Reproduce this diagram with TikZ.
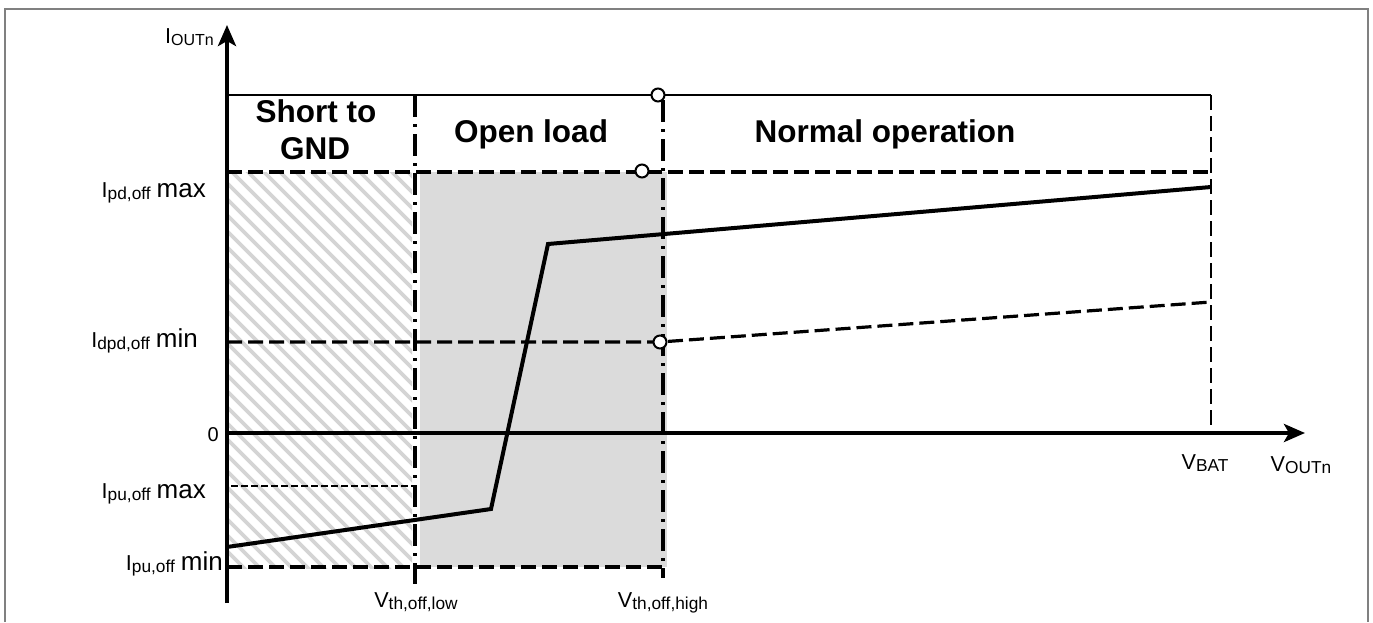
\documentclass[tikz,border=0pt]{standalone}
\usepackage{fontspec}
\setmainfont{Liberation Sans}
\usetikzlibrary{arrows.meta}
% lowered, smaller index text
\newcommand\idx[1]{\raisebox{-2.7pt}{\fontsize{17.3}{19}\selectfont #1}}
% enlarged limit word (max / min)
\newcommand\limword[1]{{\fontsize{26}{30}\selectfont #1}}
\begin{document}
\begin{tikzpicture}[x=1pt,y=-1pt,
  frame/.style={draw=black!50,line width=2pt},
  axis/.style={line width=4.6pt,-{Stealth[length=21pt,width=18pt,inset=5pt]}},
  curve/.style={line width=4pt,line join=miter},
  lvl/.style={line width=3.2pt,dash pattern=on 15pt off 6pt},
  finelvl/.style={line width=2.2pt,dash pattern=on 7pt off 3pt},
  bound/.style={line width=3.8pt,dash pattern=on 22pt off 7pt on 3pt off 7pt},
  boxline/.style={line width=2pt},
  pin/.style={circle,draw,fill=white,line width=2pt,minimum size=13pt,inner sep=0pt},
  lbl/.style={font=\fontsize{21.6}{26}\selectfont,inner sep=0pt},
  zone/.style={font=\bfseries\fontsize{31.5}{37}\selectfont,inner sep=0pt,anchor=base},
  hatch/.style={draw=black!17,line width=3.6pt}
]
\useasboundingbox (0,0) rectangle (1373,622);

% outer frame (open at the bottom)
\draw[frame] (5,622) -- (5,9) -- (1368,9) -- (1368,622);

% key coordinates
\coordinate (O) at (227,433);
\coordinate (ytop) at (227,25);
\coordinate (ybot) at (227,603);
\coordinate (xend) at (1305,433);

% open-load region
\fill[black!14] (420,172) rectangle (667,567);

% short-to-GND region, hatched
\begin{scope}
  \clip (229,172) rectangle (412,568);
  \foreach \s in {-196,-180,...,420}
    \draw[hatch] (\s,160) -- (\s+420,580);
\end{scope}

% zone header box
\coordinate (hb0) at (227,95);
\coordinate (hb1) at (1211,95);
\draw[boxline] (hb0) -- (hb1);

% current levels
\coordinate (pdL) at (227,172);   \coordinate (pdR) at (1211,172);
\coordinate (dpdL) at (227,342);  \coordinate (dpdM) at (660,342);
\coordinate (dpdR) at (1211,302);
\coordinate (puxL) at (231,486);  \coordinate (puxR) at (415,486);
\coordinate (punL) at (227,567);  \coordinate (punR) at (663,567);
\draw[lvl] (pdL) -- (pdR);
\draw[lvl] (dpdL) -- (dpdM) -- (dpdR);
\draw[finelvl] (puxL) -- (puxR);
\draw[lvl] (punL) -- (punR);

% voltage thresholds
\coordinate (vlT) at (415,95);   \coordinate (vlB) at (415,584);
\coordinate (vhT) at (663,100);  \coordinate (vhB) at (663,578);
\coordinate (vbT) at (1211,95);  \coordinate (vbB) at (1211,433);
\draw[bound] (vlT) -- (vlB);
\draw[bound] (vhT) -- (vhB);
\draw[lvl,line width=2.6pt] (vbT) -- (vbB);

% characteristic
\coordinate (c0) at (227,547);
\coordinate (c1) at (491,509);
\coordinate (c2) at (548,244);
\coordinate (c3) at (1211,187);
\draw[curve] (c0) -- (c1) -- (c2) -- (c3);

% axes
\draw[axis] (ybot) -- (ytop);
\draw[axis] (O) -- (xend);

% connection points
\node[pin] (p1) at (658,95) {};
\node[pin] (p2) at (642,171) {};
\node[pin] (p3) at (660,342) {};

% zone names
\node[zone] (z1a) at (316,122) {Short to};
\node[zone] (z1b) at (315,159) {GND};
\node[zone] (z2) at (531,142) {Open load};
\node[zone] (z3) at (885,142) {Normal operation};

% axis labels
\node[lbl,anchor=base east] (ly) at (214,43) {I{\raisebox{-2.7pt}{\fontsize{16}{18}\selectfont OUTn}}};
\node[lbl,anchor=base] (lx) at (1301,471) {V\idx{OUTn}};
\node[lbl,anchor=base east,font=\fontsize{20}{24}\selectfont] (l0) at (219,441) {0};

\node[lbl,anchor=base east] (l1) at (206,197) {I\idx{pd,off} \limword{max}};
\node[lbl,anchor=base east] (l2) at (198,347) {I\idx{dpd,off} \limword{min}};
\node[lbl,anchor=base east] (l3) at (206,498) {I\idx{pu,off} \limword{max}};
\node[lbl,anchor=base east] (l4) at (223,570) {I\idx{pu,off} \limword{min}};

\node[lbl,anchor=base] (l5) at (416,607) {V\idx{th,off,low}};
\node[lbl,anchor=base] (l6) at (663,607) {V\idx{th,off,high}};
\node[lbl,anchor=base] (l7) at (1205,469) {V\idx{BAT}};
\end{tikzpicture}
\end{document}
